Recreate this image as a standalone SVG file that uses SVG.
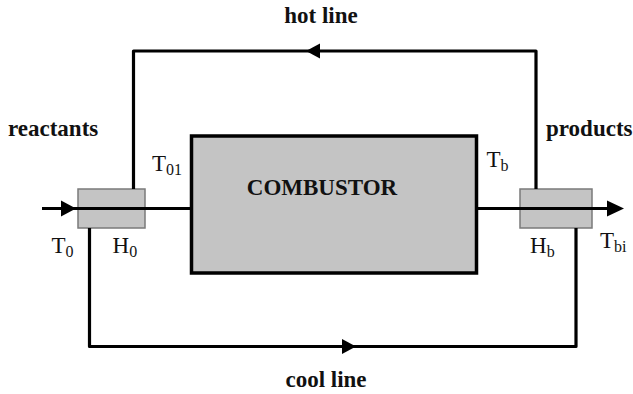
<svg xmlns="http://www.w3.org/2000/svg" width="633" height="394" viewBox="0 0 633 394">
<style>
.bold{font-family:'Liberation Serif',Tinos,'Times New Roman','DejaVu Serif',serif;font-weight:700;font-size:23px;fill:#111}
.lab{font-family:'Liberation Serif',Tinos,'Times New Roman','DejaVu Serif',serif;font-size:23px;fill:#111}
.sub{font-size:16px}
.line{fill:none;stroke:#000;stroke-width:3.2;stroke-linejoin:round}
.ah{fill:#000}
.hx{fill:#c4c4c4;stroke:#7a7a7a;stroke-width:1.5}
.comb{fill:#c4c4c4;stroke:#000;stroke-width:3.5}
</style>
<rect width="633" height="394" fill="#fff"/>
<g id="combustor">
<rect class="comb" x="191.5" y="136" width="285" height="137"/>
<text class="bold" x="322" y="195" text-anchor="middle">COMBUSTOR</text>
</g>
<g id="hx-left">
<rect class="hx" x="78" y="189" width="67" height="39"/>
</g>
<g id="hx-right">
<rect class="hx" x="520" y="189" width="72" height="39"/>
</g>
<g id="connectors">
<path class="line" d="M42 208.5 H191.5"/>
<polygon class="ah" points="76,208.5 61,200.5 61,216.5"/>
<path class="line" d="M476.5 208.5 H610"/>
<polygon class="ah" points="624,208.5 607,200.5 607,216.5"/>
<path class="line" d="M536 189 V51 H133.5 V189"/>
<polygon class="ah" points="306,51 320,43.5 320,58.5"/>
<path class="line" d="M89.5 228 V346.5 H576 V228"/>
<polygon class="ah" points="356,346.5 342,339 342,354"/>
</g>
<g id="labels">
<text class="bold" x="321" y="23" text-anchor="middle">hot line</text>
<text class="bold" x="326" y="387" text-anchor="middle">cool line</text>
<text class="bold" x="8" y="136">reactants</text>
<text class="bold" x="546" y="136">products</text>
<text class="lab" x="152" y="171">T<tspan class="sub" dy="4">01</tspan></text>
<text class="lab" x="51.5" y="253">T<tspan class="sub" dy="4">0</tspan></text>
<text class="lab" x="112.5" y="253">H<tspan class="sub" dy="4">0</tspan></text>
<text class="lab" x="486.5" y="167">T<tspan class="sub" dy="4">b</tspan></text>
<text class="lab" x="530" y="253">H<tspan class="sub" dy="4">b</tspan></text>
<text class="lab" x="600" y="248">T<tspan class="sub" dy="4">bi</tspan></text>
</g>
</svg>
